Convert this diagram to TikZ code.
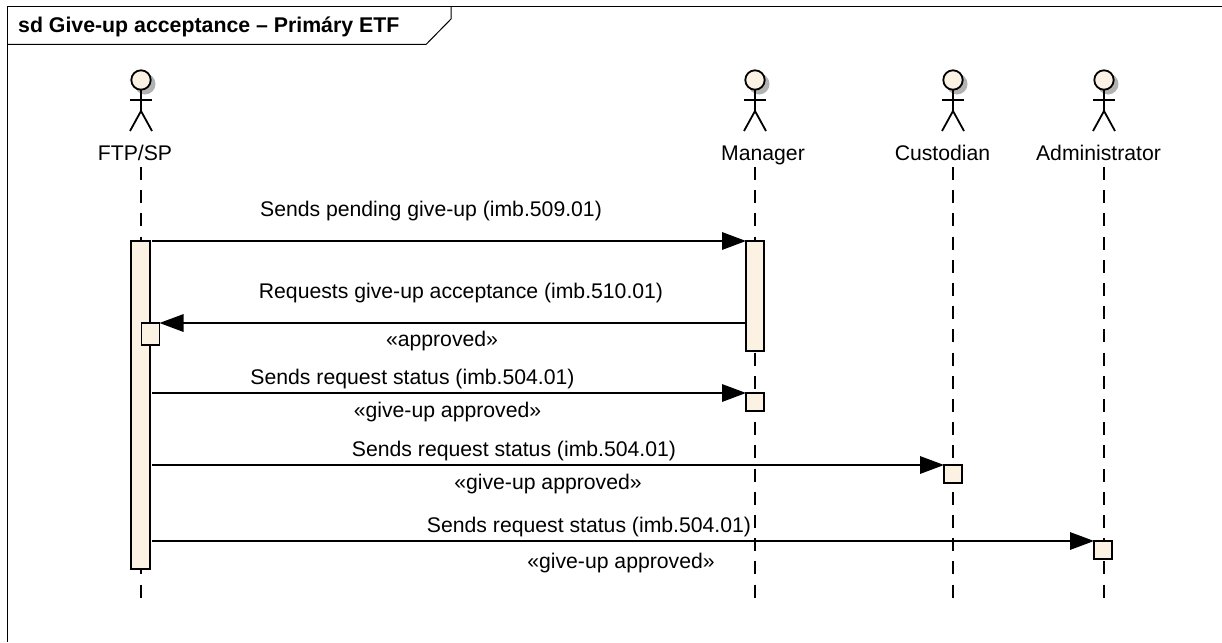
\documentclass[tikz,border=0pt]{standalone}
\usepackage{fontspec}
\setmainfont{Liberation Sans}
\usetikzlibrary{arrows.meta}
\definecolor{lifefill}{RGB}{252,242,227}
\tikzset{
	actorlabel/.style={anchor=base,inner sep=0pt,font=\fontsize{21.2}{24}\selectfont},
	msglabel/.style={anchor=base,inner sep=0pt,font=\fontsize{21.2}{24}\selectfont},
	lifeline/.style={line width=1.8pt,dash pattern=on 13pt off 10.2pt},
	activation/.style={draw,line width=1.8pt,fill=lifefill,inner sep=0pt,outer sep=0pt,anchor=north},
	msg/.style={line width=1.6pt,-{Triangle[length=24pt,width=17.5pt]}},
}
\newcommand{\actorfig}[1]{%
	\fill[black!30] (#1+4,84) circle [radius=10.5];
	\draw[line width=1.8pt,fill=lifefill] (#1,80) circle [radius=9.7];
	\draw[line width=1.8pt] (#1,90) -- (#1,111);
	\draw[line width=1.6pt] (#1-11,100) -- (#1+11,100);
	\draw[line width=1.8pt] (#1-11,131) -- (#1,111) -- (#1+11,131);
}
\begin{document}
\begin{tikzpicture}[x=1pt,y=-1pt]
		\useasboundingbox (0,0) rectangle (1222,642);
		\fill[white] (0,0) rectangle (1222,642);
		% frame
		\draw[line width=1.2pt] (7.5,642) -- (7.5,6.5) -- (1222,6.5);
		\draw[line width=1pt] (7.5,44.5) -- (426,44.5) -- (451,19) -- (451,6.5);
		\node[anchor=base west,inner sep=0pt,font=\bfseries\fontsize{21.3}{24}\selectfont] (title) at (18,33) {sd Give-up acceptance -- Primáry ETF};
		% actors
		\actorfig{141}
		\actorfig{755}
		\actorfig{953}
		\actorfig{1104}
		\node[actorlabel] (ftp) at (135,160.5) {FTP/SP};
		\node[actorlabel] (mgr) at (763,160.5) {Manager};
		\node[actorlabel] (cus) at (942.5,160.5) {Custodian};
		\node[actorlabel] (adm) at (1098.5,160.5) {Administrator};
		% lifelines
		\coordinate (ftpend) at (141,600);
		\coordinate (mgrend) at (755,600);
		\coordinate (cusend) at (953,600);
		\coordinate (admend) at (1104,600);
		\draw[lifeline] (141,167) -- (ftpend);
		\draw[lifeline] (755,167) -- (mgrend);
		\draw[lifeline] (953,167) -- (cusend);
		\draw[lifeline] (1104,167) -- (admend);
		% activations
		\node[activation,minimum width=19pt,minimum height=328pt] (ftpbar) at (140.5,241) {};
		\node[activation,minimum width=18pt,minimum height=110pt] (mgrbar) at (755,241) {};
		\node[activation,minimum width=18pt,minimum height=22pt] (ftpbox) at (150.5,323) {};
		\node[activation,minimum width=18pt,minimum height=18pt] (mgrbox) at (755,393) {};
		\node[activation,minimum width=18pt,minimum height=18pt] (cusbox) at (953,465) {};
		\node[activation,minimum width=18pt,minimum height=18pt] (admbox) at (1103,541) {};
		% messages
		\coordinate (m1) at (152,241);
		\coordinate (m3) at (152,393);
		\coordinate (m4) at (152,465);
		\coordinate (m5) at (152,541);
		\coordinate (m2) at (746,323);
		\draw[msg] (m1) -- (mgrbar.north west);
		\draw[msg] (m2) -- (ftpbox.north east);
		\draw[msg] (m3) -- (mgrbox.north west);
		\draw[msg] (m4) -- (cusbox.north west);
		\draw[msg] (m5) -- (admbox.north west);
		% labels
		\node[msglabel] (l1) at (431,216) {Sends pending give-up (imb.509.01)};
		\node[msglabel] (l2) at (461,298) {Requests give-up acceptance (imb.510.01)};
		\node[msglabel] (l2b) at (442,346) {«approved»};
		\node[msglabel] (l3) at (412.5,384) {Sends request status (imb.504.01)};
		\node[msglabel] (l3b) at (447.5,417) {«give-up approved»};
		\node[msglabel] (l4) at (514,456) {Sends request status (imb.504.01)};
		\node[msglabel] (l4b) at (548,489) {«give-up approved»};
		\node[msglabel] (l5) at (589,532) {Sends request status (imb.504.01)};
		\node[msglabel] (l5b) at (621,568) {«give-up approved»};
\end{tikzpicture}
\end{document}
